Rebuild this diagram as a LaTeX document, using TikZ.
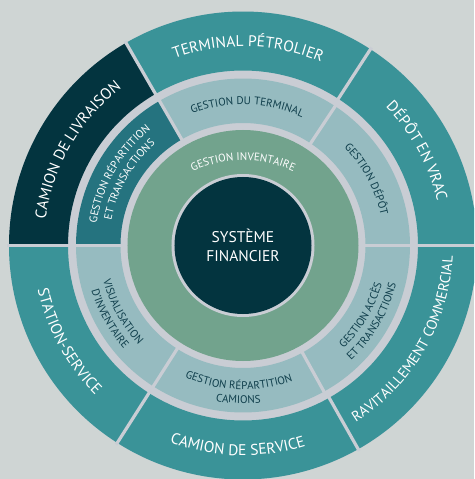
\documentclass[tikz,border=0pt]{standalone}
\usepackage{fontspec}
\setmainfont{PT Sans}
\usetikzlibrary{decorations.text}
\definecolor{bgcol}{HTML}{CFD5D4}
\definecolor{gapcol}{HTML}{C9CDD4}
\definecolor{tealcol}{HTML}{3A9398}
\definecolor{darkcol}{HTML}{03343F}
\definecolor{lightcol}{HTML}{96BBC0}
\definecolor{midcol}{HTML}{25737F}
\definecolor{greencol}{HTML}{72A38D}
\definecolor{inkcol}{HTML}{0F3E4B}
% annular sector: colour, start angle, end angle, inner radius, outer radius
\newcommand\ringsector[5]{\fill[#1] (#2:#4) arc[start angle=#2,end angle=#3,radius=#4] -- (#3:#5) arc[start angle=#3,end angle=#2,radius=#5] -- cycle;}
% clockwise text: radius, mid angle, half span, size, colour, text
\newcommand\cwtext[6]{\path[decorate,decoration={text along path,text align=center,text color=#5,text={|\fontsize{#4}{#4}\selectfont|#6}}] ({#2+#3}:#1) arc[start angle={#2+#3},end angle={#2-#3},radius=#1];}
% counter-clockwise text
\newcommand\ccwtext[6]{\path[decorate,decoration={text along path,text align=center,text color=#5,text={|\fontsize{#4}{#4}\selectfont|#6}}] ({#2-#3}:#1) arc[start angle={#2-#3},end angle={#2+#3},radius=#1];}
\tikzset{divider/.style={draw=gapcol,line width=3.2}}
\begin{document}
\begin{tikzpicture}[x=1pt,y=1pt]
\useasboundingbox (-243,-233.5) rectangle (231,245.5);
\clip (-243,-233.5) rectangle (231,245.5);
\fill[bgcol] (-243,-233.5) rectangle (231,245.5);
\fill[gapcol] (0,0) circle (234);
% outer ring
\ringsector{tealcol}{0}{57}{175}{234}
\ringsector{tealcol}{57}{120}{175}{234}
\ringsector{darkcol}{120}{180}{175}{234}
\ringsector{tealcol}{180}{237.5}{175}{234}
\ringsector{tealcol}{237.5}{299.5}{175}{234}
\ringsector{tealcol}{299.5}{360}{175}{234}
\foreach \a in {0,57,120,180,237.5,299.5} \draw[divider] (\a:173) -- (\a:236);
% middle ring
\ringsector{lightcol}{0}{56.5}{122.5}{167}
\ringsector{lightcol}{56.5}{120}{122.5}{167}
\ringsector{midcol}{120}{180}{122.5}{167}
\ringsector{lightcol}{180}{237.5}{122.5}{167}
\ringsector{lightcol}{237.5}{299}{122.5}{167}
\ringsector{lightcol}{299}{360}{122.5}{167}
\foreach \a in {0,56.5,120,180,237.5,299} \draw[divider] (\a:121) -- (\a:169);
% green ring and core
\fill[greencol] (0,0) circle (115.5);
\fill[gapcol] (0,0) circle (71.5);
\node (core) [circle,fill=darkcol,minimum size=137,inner sep=0,text=white,align=center,font=\fontsize{15.5}{19.3}\selectfont] at (0,0) {SYSTÈME\\FINANCIER};
% outer texts
\cwtext{199}{28.5}{45}{15.5}{white}{DÉPÔT EN VRAC}
\cwtext{199}{88.5}{45}{15.5}{white}{TERMINAL PÉTROLIER}
\cwtext{199}{150}{45}{15.5}{white}{CAMION DE LIVRAISON}
\ccwtext{210}{208.75}{45}{15.5}{white}{STATION-SERVICE}
\ccwtext{210}{268.5}{45}{15.5}{white}{CAMION DE SERVICE}
\ccwtext{210}{329.75}{45}{14.5}{white}{RAVITAILLEMENT COMMERCIAL}
% middle texts
\cwtext{141}{88.25}{45}{11}{inkcol}{GESTION DU TERMINAL}
\cwtext{141}{28.25}{45}{11}{inkcol}{GESTION DÉPÔT}
\cwtext{148}{150}{45}{11}{white}{GESTION RÉPARTITION}
\cwtext{134}{150}{45}{11}{white}{ET TRANSACTIONS}
\ccwtext{144}{329.5}{45}{11}{inkcol}{GESTION ACCÈS}
\ccwtext{158}{329.5}{45}{11}{inkcol}{ET TRANSACTIONS}
\ccwtext{144}{268.25}{45}{11}{inkcol}{GESTION RÉPARTITION}
\ccwtext{158}{268.25}{45}{11}{inkcol}{CAMIONS}
\ccwtext{144}{208.75}{45}{11}{inkcol}{VISUALISATION}
\ccwtext{158}{208.75}{45}{11}{inkcol}{D’INVENTAIRE}
% green ring text
\path[shift={(0,-35)},decorate,decoration={text along path,text align=center,text color=white,text={|\fontsize{11}{11}\selectfont|GESTION INVENTAIRE}}] (130:120) arc[start angle=130,end angle=50,radius=120];
\end{tikzpicture}
\end{document}
